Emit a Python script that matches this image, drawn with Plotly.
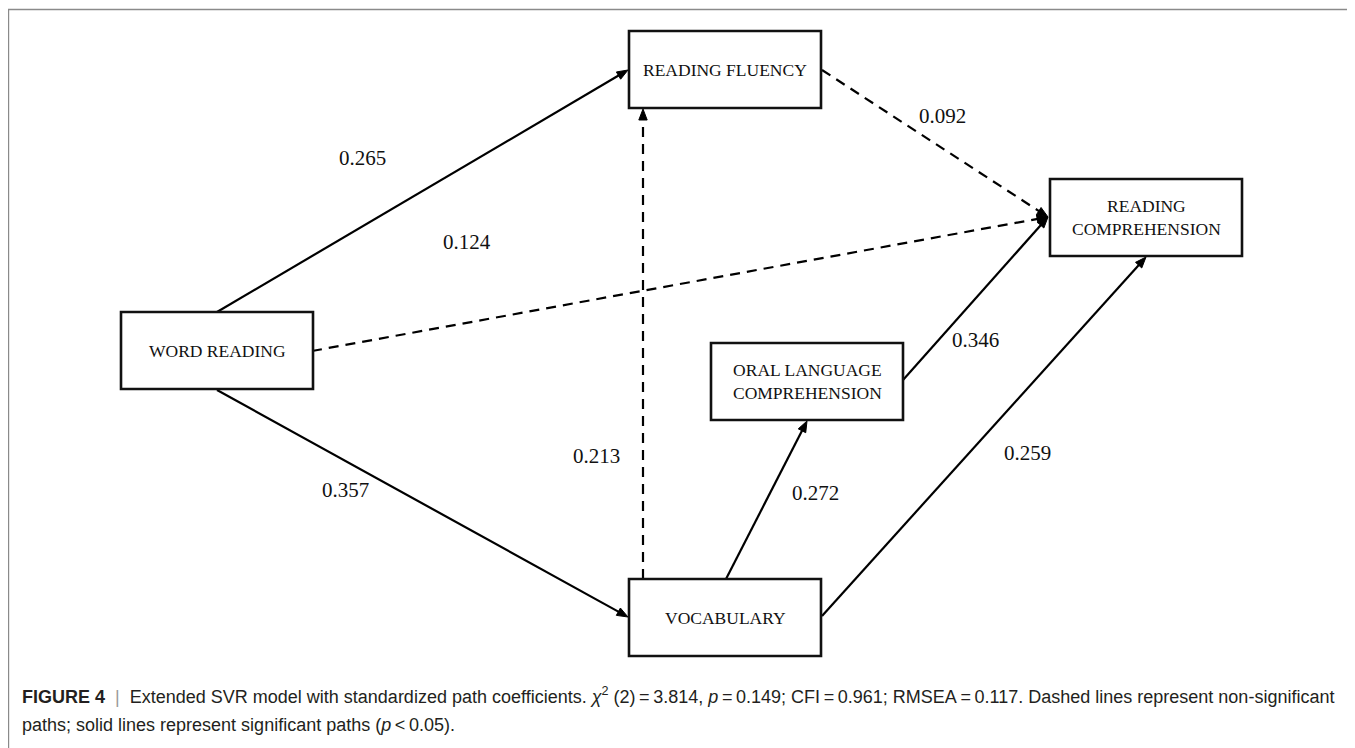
import plotly.graph_objects as go

# ---------------- data ----------------
node_ids = ["word", "fluency", "vocab", "oral", "comp"]
node_labels = ["WORD READING", "READING FLUENCY", "VOCABULARY",
               "ORAL LANGUAGE<br>COMPREHENSION", "READING<br>COMPREHENSION"]

path_from = ["word", "word", "word", "vocab", "fluency", "vocab", "oral", "vocab"]
path_to = ["fluency", "comp", "vocab", "fluency", "comp", "oral", "comp", "comp"]
coefficients = [0.265, 0.124, 0.357, 0.213, 0.092, 0.272, 0.346, 0.259]
significant = [True, False, True, False, False, True, True, True]

caption_line1 = ("<b>FIGURE 4</b>  <span style='color:#9a9a9a'>|</span>  Extended SVR model with standardized path coefficients. "
                 "<i>χ</i><sup>2</sup> (2)\u2009=\u20093.814, <i>p</i>\u2009=\u20090.149; CFI\u2009=\u20090.961; "
                 "RMSEA\u2009=\u20090.117. Dashed lines represent non-significant")
caption_line2 = "paths; solid lines represent significant paths (<i>p</i>\u2009<\u20090.05)."

# ---------------- layout (page-pixel geometry) ----------------
PAGE_W, PAGE_H = 1355, 748
OFF = 8  # default page margin around the plot div
box_w, box_h = 192, 77
box_pos = {  # left, top
    "word": (121, 312),
    "fluency": (629, 31),
    "vocab": (629, 579),
    "oral": (711, 343),
    "comp": (1050, 179),
}
# start / end points of every path (same order as the data lists)
path_start = [(217, 312), (312, 351), (217, 390), (643, 579),
              (822, 70), (726, 579), (903, 380), (822, 616)]
path_end = [(628, 70), (1048, 217), (628, 617), (643, 109),
            (1048, 217), (807, 421), (1048, 217), (1146, 257)]
label_pos = [(362, 158), (467, 242), (345, 490), (596, 456),
             (942, 116), (815, 493), (975, 340), (1027, 453)]

HEAD_LEN, HEAD_HALF = 11, 4.2

fig = go.Figure()

# paths
for i, c in enumerate(coefficients):
    (x0, y0), (x1, y1) = path_start[i], path_end[i]
    dx, dy = x1 - x0, y1 - y0
    L = (dx * dx + dy * dy) ** 0.5
    ux, uy = dx / L, dy / L
    # stop the shaft just inside the arrowhead
    sx, sy = x1 - ux * (HEAD_LEN - 2), y1 - uy * (HEAD_LEN - 2)
    fig.add_trace(go.Scatter(
        x=[x0, sx], y=[y0, sy], mode="lines",
        line=dict(color="black", width=2.2,
                  dash="solid" if significant[i] else "10px,7px"),
        hoverinfo="skip", showlegend=False))
    # arrowhead (filled triangle)
    bx, by = x1 - ux * HEAD_LEN, y1 - uy * HEAD_LEN
    px, py = -uy, ux
    p1 = (bx + px * HEAD_HALF, by + py * HEAD_HALF)
    p2 = (bx - px * HEAD_HALF, by - py * HEAD_HALF)
    fig.add_shape(type="path",
                  path=f"M {x1},{y1} L {p1[0]:.2f},{p1[1]:.2f} L {p2[0]:.2f},{p2[1]:.2f} Z",
                  xref="x", yref="y", fillcolor="black",
                  line=dict(color="black", width=1), layer="above")
    lx, ly = label_pos[i]
    fig.add_annotation(x=lx, y=ly, xref="x", yref="y", showarrow=False,
                       text=f"{c:.3f}",
                       font=dict(family="Liberation Serif", size=21, color="#111"))

# boxes
for nid, lab in zip(node_ids, node_labels):
    x0, y0 = box_pos[nid]
    fig.add_shape(type="rect", x0=x0, y0=y0, x1=x0 + box_w, y1=y0 + box_h,
                  xref="x", yref="y", line=dict(color="#111", width=2.6),
                  fillcolor="white", layer="above")
    fig.add_annotation(x=x0 + box_w / 2, y=y0 + box_h / 2, xref="x", yref="y",
                       showarrow=False, text=lab,
                       font=dict(family="Liberation Serif", size=17.5, color="#111"))

# frame
fig.add_shape(type="rect", x0=8.5, y0=9.5, x1=1352.5, y1=770,
              xref="x", yref="y", line=dict(color="#8a8a8a", width=1.4),
              layer="below")

# caption
fig.add_annotation(x=20, y=695, xref="x", yref="y", xanchor="left", yanchor="middle",
                   showarrow=False, text=caption_line1,
                   font=dict(family="Liberation Sans", size=18, color="#231f20"))
fig.add_annotation(x=20, y=725, xref="x", yref="y", xanchor="left", yanchor="middle",
                   showarrow=False, text=caption_line2,
                   font=dict(family="Liberation Sans", size=18, color="#231f20"))

fig.update_layout(
    width=PAGE_W - OFF, height=PAGE_H - OFF, autosize=False,
    margin=dict(l=0, r=0, t=0, b=0),
    paper_bgcolor="white", plot_bgcolor="white",
    xaxis=dict(range=[OFF, PAGE_W], visible=False, fixedrange=True),
    yaxis=dict(range=[PAGE_H, OFF], visible=False, fixedrange=True),
)

fig.write_html("out.html")
